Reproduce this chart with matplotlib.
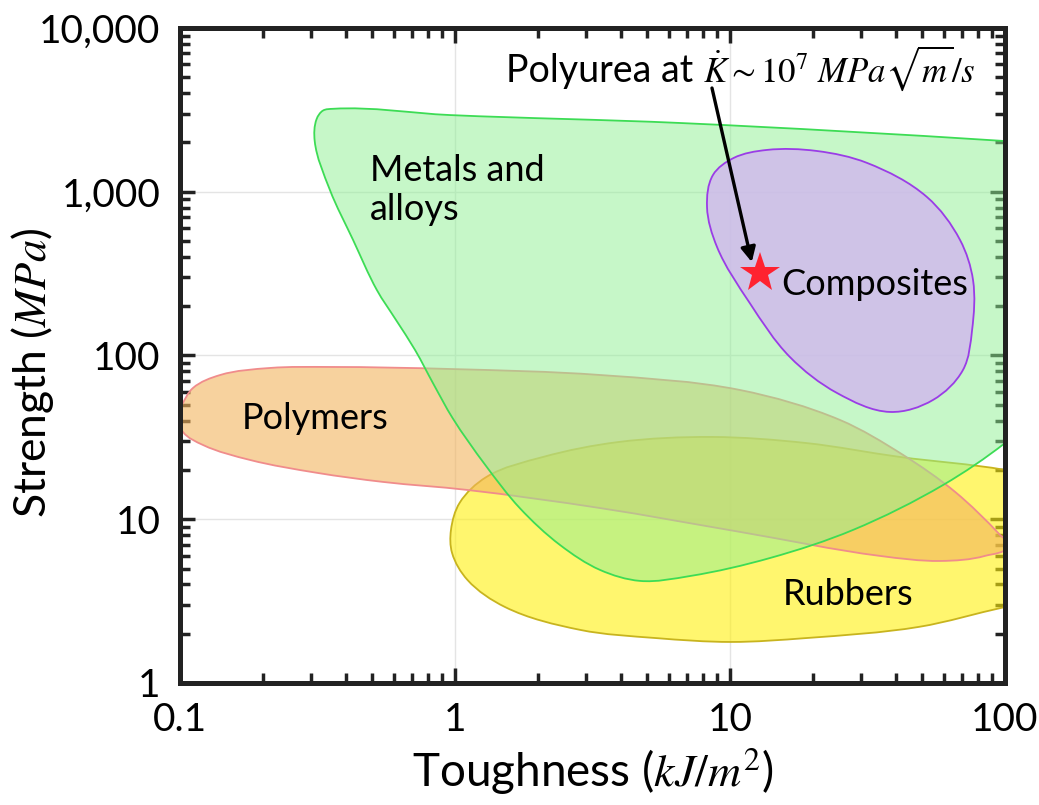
import matplotlib
matplotlib.use("Agg")
import matplotlib.pyplot as plt
import numpy as np
from matplotlib.path import Path
from matplotlib.patches import PathPatch

plt.rcParams["font.family"] = ["Lato", "DejaVu Sans"]
plt.rcParams["mathtext.fontset"] = "stix"

# material family outlines: (toughness kJ/m^2, strength MPa), clockwise
metals_t = [0.36, 0.96, 6.58, 100, 158, 175, 134, 100, 59.6, 28.0, 14.0, 7.16,
            4.71, 3.37, 2.41, 1.72, 1.29, 0.98, 0.839, 0.716, 0.610, 0.520, 0.426,
            0.351, 0.309, 0.314, 0.331]
metals_s = [3210, 2940, 2630, 2040, 1930, 300, 45.2, 29.2, 16.2, 8.6, 5.80, 4.50,
            4.20, 4.90, 6.96, 11.7, 21.4, 41.5, 66.0, 108, 165, 251, 508,
            1025, 2040, 2780, 3130]

composites_t = [13.6, 20.7, 31.5, 52.0, 68.6, 76.5, 75.9, 70.3, 54.7, 38.2, 24.5,
                16.5, 11.8, 8.97, 8.25, 8.67, 10.3]
composites_s = [1800, 1774, 1500, 929, 508, 289, 143, 81.5, 53.5, 45.2, 59.0,
                98, 209, 460, 807, 1265, 1607]

polymers_t = [0.0983, 0.1017, 0.1115, 0.140, 0.2125, 0.351, 0.96, 3.37, 10.9, 25.1,
              42.6, 65.8, 95.9, 103, 84.5, 58.1, 35.1, 10.9, 3.37, 1.106, 0.547,
              0.315, 0.180, 0.1213, 0.1026]
polymers_s = [43.3, 49.9, 63.3, 76.0, 83.9, 85.1, 82.7, 76.0, 61.5, 40.4,
              24.7, 14.7, 8.02, 6.96, 5.97, 5.56, 5.97, 8.36, 11.7, 15.1, 16.9,
              19.2, 23.0, 28.4, 34.1]

rubbers_t = [0.967, 1.04, 1.30, 2.09, 3.92, 8.61, 18.9, 41.5, 100, 172, 204, 165,
             100, 48.6, 18.9, 10.1, 5.38, 2.85, 1.52, 1.11, 0.976]
rubbers_s = [8.60, 12.6, 18.1, 24.0, 29.6, 31.8, 29.2, 24.0, 20.0, 16.2, 6.96, 3.45,
             2.91, 2.20, 1.88, 1.78, 1.88, 2.11, 2.91, 4.26, 6.22]

# polyurea point and arrow start
polyurea_t, polyurea_s = 12.85, 319
arrow_from = (8.6, 4300)
arrow_to = (12.0, 372)

x_ticks = [0.1, 1, 10, 100]
x_labels = ["0.1", "1", "10", "100"]
y_ticks = [1, 10, 100, 1000, 10000]
y_labels = ["1", "10", "100", "1,000", "10,000"]

AX_RECT = [0.1732, 0.1516, 0.7941, 0.8136]
FIG_W, FIG_H = 10.39, 8.05
# pixels per decade along x relative to y, so the curves bend evenly on screen
X_STRETCH = (AX_RECT[2] * FIG_W / 3) / (AX_RECT[3] * FIG_H / 4)


def smooth_outline(xs, ys):
    """Closed smooth outline through the points (cubic Beziers in log space)."""
    p = np.column_stack([np.log10(xs) * X_STRETCH, np.log10(ys)])
    n = len(p)
    tang = []
    for i in range(n):
        a = p[i] - p[i - 1]
        b = p[(i + 1) % n] - p[i]
        t = a / np.hypot(*a) + b / np.hypot(*b)
        tang.append(t / np.hypot(*t))
    verts = [p[0]]
    codes = [Path.MOVETO]
    for i in range(n):
        j = (i + 1) % n
        d = np.hypot(*(p[j] - p[i])) / 3
        verts += [p[i] + tang[i] * d, p[j] - tang[j] * d, p[j]]
        codes += [Path.CURVE4] * 3
    verts = np.array(verts)
    verts[:, 0] /= X_STRETCH
    return Path(10 ** verts, codes)


fig = plt.figure(figsize=(FIG_W, FIG_H), dpi=100)
ax = fig.add_axes(AX_RECT)
ax.set_xscale("log")
ax.set_yscale("log")

regions = [
    (rubbers_t, rubbers_s, "#fff00d", 0.6, "#c8b41e"),
    (polymers_t, polymers_s, "#f3b45d", 0.6, "#f08c8c"),
    (metals_t, metals_s, "#8ef093", 0.5, "#3ddc55"),
    (composites_t, composites_s, "#d2b6f0", 0.8, "#9a3de6"),
]
for i, (xs, ys, fc, a, ec) in enumerate(regions):
    ax.add_patch(PathPatch(smooth_outline(xs, ys), facecolor=fc, alpha=a,
                           edgecolor="none", zorder=2 + i))
    ax.add_patch(PathPatch(smooth_outline(xs, ys), facecolor="none",
                           edgecolor=ec, lw=1.3, zorder=2 + i))

ax.plot(polyurea_t, polyurea_s, marker="*", ms=30, color="#ff2230",
        markeredgewidth=0, zorder=10)
ax.annotate("", xy=arrow_to, xytext=arrow_from,
            arrowprops=dict(arrowstyle="-|>", color="black", lw=2.4,
                            mutation_scale=22, shrinkA=0, shrinkB=0),
            zorder=11)

ax.text(1.53, 4680, "Polyurea at", fontsize=27, va="baseline", ha="left",
        zorder=12)
ax.text(7.98, 4680, r"$\dot{K}{\sim}10^{7}\ MPa\sqrt{m}/s$", fontsize=25,
        va="baseline", ha="left", zorder=12)
ax.text(0.49, 1025, "Metals and\nalloys", fontsize=26, va="center", ha="left",
        linespacing=1.25, zorder=12)
ax.text(0.31, 41.5, "Polymers", fontsize=26, va="center", ha="center", zorder=12)
ax.text(15.4, 270, "Composites", fontsize=26, va="center", ha="left", zorder=12)
ax.text(26.9, 3.45, "Rubbers", fontsize=26, va="center", ha="center", zorder=12)

ax.set_xlim(0.1, 100)
ax.set_ylim(1, 10000)
ax.set_xticks(x_ticks, x_labels)
ax.set_yticks(y_ticks, y_labels)
ax.tick_params(which="both", direction="in", top=True, right=True,
               width=2.5, color="#222222", labelsize=28)
ax.tick_params(which="major", length=11, pad=14)
ax.tick_params(which="minor", length=7)
ax.grid(True, which="major", color="#e4e4e4", lw=1.0)
ax.set_axisbelow(True)
for sp in ax.spines.values():
    sp.set_linewidth(3.6)
    sp.set_color("#222222")
    sp.set_zorder(20)

ax.set_xlabel(r"Toughness ($kJ/m^2$)", fontsize=33, labelpad=6)
ax.set_ylabel(r"Strength ($MPa$)", fontsize=32)
ax.yaxis.set_label_coords(-0.15, 0.473)

fig.savefig("out.png", dpi=100)
